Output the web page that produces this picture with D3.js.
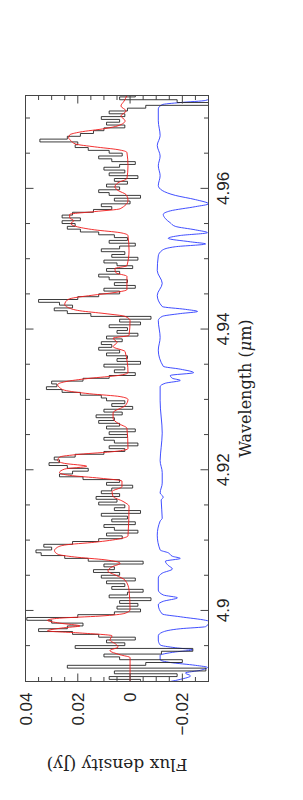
<!DOCTYPE html>
<html>
<head>
<meta charset="utf-8">
<script src="https://cdn.jsdelivr.net/npm/d3@7"></script>
<style>
  body { margin: 0; background: #fff; }
</style>
</head>
<body>
<svg id="chart" width="303" height="800"></svg>
<script>
// observed spectrum: wavelength grid (um) and flux density (Jy)
var dataWave = [
  4.8900, 4.8904, 4.8908, 4.8912, 4.8916, 4.8920, 4.8924, 4.8928, 4.8932, 4.8936,
  4.8940, 4.8944, 4.8948, 4.8952, 4.8956, 4.8960, 4.8964, 4.8968, 4.8972, 4.8976,
  4.8980, 4.8984, 4.8988, 4.8992, 4.8996, 4.9000, 4.9004, 4.9008, 4.9012, 4.9016,
  4.9020, 4.9024, 4.9028, 4.9032, 4.9036, 4.9040, 4.9044, 4.9048, 4.9052, 4.9056,
  4.9060, 4.9064, 4.9068, 4.9072, 4.9076, 4.9080, 4.9084, 4.9088, 4.9092, 4.9096,
  4.9100, 4.9104, 4.9108, 4.9112, 4.9116, 4.9120, 4.9124, 4.9128, 4.9132, 4.9136,
  4.9140, 4.9144, 4.9148, 4.9152, 4.9156, 4.9160, 4.9164, 4.9168, 4.9172, 4.9176,
  4.9180, 4.9184, 4.9188, 4.9192, 4.9196, 4.9200, 4.9204, 4.9208, 4.9212, 4.9216,
  4.9220, 4.9224, 4.9228, 4.9232, 4.9236, 4.9240, 4.9244, 4.9248, 4.9252, 4.9256,
  4.9260, 4.9264, 4.9268, 4.9272, 4.9276, 4.9280, 4.9284, 4.9288, 4.9292, 4.9296,
  4.9300, 4.9304, 4.9308, 4.9312, 4.9316, 4.9320, 4.9324, 4.9328, 4.9332, 4.9336,
  4.9340, 4.9344, 4.9348, 4.9352, 4.9356, 4.9360, 4.9364, 4.9368, 4.9372, 4.9376,
  4.9380, 4.9384, 4.9388, 4.9392, 4.9396, 4.9400, 4.9404, 4.9408, 4.9412, 4.9416,
  4.9420, 4.9424, 4.9428, 4.9432, 4.9436, 4.9440, 4.9444, 4.9448, 4.9452, 4.9456,
  4.9460, 4.9464, 4.9468, 4.9472, 4.9476, 4.9480, 4.9484, 4.9488, 4.9492, 4.9496,
  4.9500, 4.9504, 4.9508, 4.9512, 4.9516, 4.9520, 4.9524, 4.9528, 4.9532, 4.9536,
  4.9540, 4.9544, 4.9548, 4.9552, 4.9556, 4.9560, 4.9564, 4.9568, 4.9572, 4.9576,
  4.9580, 4.9584, 4.9588, 4.9592, 4.9596, 4.9600, 4.9604, 4.9608, 4.9612, 4.9616,
  4.9620, 4.9624, 4.9628, 4.9632, 4.9636, 4.9640, 4.9644, 4.9648, 4.9652, 4.9656,
  4.9660, 4.9664, 4.9668, 4.9672, 4.9676, 4.9680, 4.9684, 4.9688, 4.9692, 4.9696,
  4.9700, 4.9704, 4.9708, 4.9712, 4.9716, 4.9720, 4.9724, 4.9728, 4.9732
];
var dataFlux = [
  -0.004, 0.008, -0.018, 0.006, -0.029, 0.024, -0.006, -0.020, 0.004, 0.010,
  -0.012, -0.024, 0.021, 0.002, 0.009, -0.002, 0.012, 0.022, 0.035, 0.024,
  0.018, 0.030, 0.0395, 0.020, 0.006, -0.004, 0.005, -0.003, 0.004, -0.008,
  0.008, 0.001, -0.005, 0.007, 0.002, 0.009, -0.002, 0.011, 0.004, 0.014,
  0.006, 0.010, -0.005, 0.016, 0.025, 0.034, 0.036, 0.030, 0.033, 0.022,
  0.012, 0.003, 0.009, -0.003, 0.006, 0.010, -0.002, 0.007, 0.001, 0.011,
  -0.004, 0.006, 0.002, 0.012, 0.005, 0.013, 0.004, 0.011, 0.007, -0.001,
  0.009, 0.004, 0.018, 0.027, 0.022, 0.016, 0.024, 0.031, 0.027, 0.029,
  0.021, 0.010, 0.002, 0.008, -0.003, 0.006, 0.010, 0.001, 0.008, -0.002,
  0.009, 0.004, 0.012, 0.006, 0.013, 0.003, 0.010, -0.001, 0.007, 0.002,
  0.009, 0.011, 0.019, 0.026, 0.032, 0.028, 0.030, 0.018, 0.008, -0.002,
  0.006, 0.002, 0.010, -0.004, 0.005, 0.001, 0.009, 0.004, 0.012, 0.007,
  0.011, 0.003, 0.009, -0.003, 0.005, 0.001, 0.008, -0.004, 0.004, -0.008,
  0.015, 0.024, 0.029, 0.022, 0.027, 0.035, 0.020, 0.012, 0.004, 0.010,
  -0.002, 0.006, 0.001, 0.008, 0.012, 0.004, 0.009, -0.001, 0.005, 0.010,
  -0.003, 0.007, 0.002, 0.011, 0.004, -0.002, 0.008, 0.001, 0.006, 0.012,
  0.019, 0.024, 0.021, 0.026, 0.019, 0.026, 0.022, 0.014, 0.007, 0.011,
  0.000, 0.006, -0.004, 0.008, 0.012, 0.004, 0.009, 0.001, 0.006, -0.003,
  0.008, 0.002, 0.010, 0.004, -0.002, 0.007, 0.012, 0.003, 0.008, 0.016,
  0.021, 0.020, 0.0345, 0.024, 0.019, 0.014, 0.010, 0.002, 0.009, 0.004,
  0.011, 0.002, 0.008, 0.001, -0.006, -0.031, -0.018, 0.004, -0.002
];

// model spectrum (red)
var modelWave = [
  4.8899, 4.8933, 4.8937, 4.8943, 4.8948, 4.8952, 4.8958, 4.8964, 4.8968, 4.8971,
  4.8975, 4.8978, 4.8982, 4.8986, 4.8989, 4.8992, 4.8996, 4.9001, 4.9029, 4.9043,
  4.9050, 4.9056, 4.9062, 4.9067, 4.9072, 4.9076, 4.9080, 4.9085, 4.9089, 4.9093,
  4.9097, 4.9102, 4.9106, 4.9148, 4.9155, 4.9162, 4.9169, 4.9176, 4.9184, 4.9188,
  4.9192, 4.9196, 4.9201, 4.9205, 4.9209, 4.9213, 4.9218, 4.9222, 4.9226, 4.9230,
  4.9259, 4.9266, 4.9273, 4.9281, 4.9291, 4.9300, 4.9304, 4.9308, 4.9313, 4.9317,
  4.9321, 4.9325, 4.9330, 4.9334, 4.9338, 4.9368, 4.9375, 4.9381, 4.9387, 4.9391,
  4.9412, 4.9418, 4.9422, 4.9426, 4.9431, 4.9435, 4.9439, 4.9443, 4.9448, 4.9452,
  4.9456, 4.9475, 4.9480, 4.9486, 4.9490, 4.9512, 4.9533, 4.9537, 4.9541, 4.9546,
  4.9550, 4.9554, 4.9558, 4.9563, 4.9567, 4.9571, 4.9583, 4.9591, 4.9597, 4.9602,
  4.9608, 4.9614, 4.9632, 4.9651, 4.9655, 4.9659, 4.9663, 4.9668, 4.9672, 4.9676,
  4.9680, 4.9685, 4.9689, 4.9696, 4.9703, 4.9710, 4.9717, 4.9724, 4.9732
];
var modelFlux = [
  0.0000, 0.0000, 0.0038, 0.0077, 0.0046, 0.0054, 0.0077, 0.0069, 0.0192, 0.0316,
  0.0262, 0.0192, 0.0270, 0.0316, 0.0270, 0.0115, 0.0019, 0.0000, 0.0004, 0.0019,
  0.0054, 0.0085, 0.0069, 0.0038, 0.0096, 0.0212, 0.0277, 0.0289, 0.0281, 0.0250,
  0.0135, 0.0038, 0.0008, 0.0004, 0.0027, 0.0065, 0.0069, 0.0031, 0.0031, 0.0115,
  0.0231, 0.0270, 0.0250, 0.0166, 0.0250, 0.0277, 0.0270, 0.0192, 0.0058, 0.0008,
  0.0012, 0.0046, 0.0065, 0.0065, 0.0019, 0.0008, 0.0038, 0.0154, 0.0250, 0.0270,
  0.0277, 0.0250, 0.0154, 0.0046, 0.0008, 0.0019, 0.0065, 0.0050, 0.0065, 0.0004,
  0.0000, 0.0019, 0.0096, 0.0192, 0.0239, 0.0250, 0.0246, 0.0231, 0.0146, 0.0058,
  0.0012, 0.0012, 0.0054, 0.0058, 0.0012, 0.0004, 0.0008, 0.0038, 0.0135, 0.0208,
  0.0227, 0.0215, 0.0231, 0.0231, 0.0135, 0.0038, 0.0008, 0.0015, 0.0046, 0.0058,
  0.0046, 0.0012, 0.0008, 0.0012, 0.0046, 0.0135, 0.0208, 0.0227, 0.0235, 0.0231,
  0.0192, 0.0096, 0.0046, 0.0019, 0.0035, 0.0015, 0.0035, 0.0023, 0.0012
];

// scaled atmospheric transmission (blue)
var transWave = [
  4.8899, 4.8902, 4.8907, 4.8911, 4.8915, 4.8919, 4.8922, 4.8926, 4.8930, 4.8936,
  4.8941, 4.8944, 4.8947, 4.8951, 4.8958, 4.8964, 4.8969, 4.8974, 4.8977, 4.8981,
  4.8984, 4.8986, 4.8991, 4.8995, 4.9008, 4.9013, 4.9018, 4.9022, 4.9029, 4.9046,
  4.9053, 4.9059, 4.9064, 4.9070, 4.9074, 4.9077, 4.9082, 4.9086, 4.9107, 4.9127,
  4.9131, 4.9157, 4.9161, 4.9167, 4.9181, 4.9196, 4.9213, 4.9232, 4.9252, 4.9298,
  4.9318, 4.9323, 4.9327, 4.9330, 4.9334, 4.9338, 4.9343, 4.9347, 4.9370, 4.9388,
  4.9412, 4.9418, 4.9422, 4.9425, 4.9428, 4.9432, 4.9448, 4.9465, 4.9483, 4.9504,
  4.9512, 4.9517, 4.9521, 4.9524, 4.9529, 4.9533, 4.9537, 4.9541, 4.9546, 4.9551,
  4.9557, 4.9563, 4.9568, 4.9574, 4.9578, 4.9584, 4.9590, 4.9597, 4.9604, 4.9618,
  4.9632, 4.9646, 4.9661, 4.9675, 4.9696, 4.9713, 4.9719, 4.9722, 4.9725, 4.9729,
  4.9732
];
var transFlux = [
  -0.0154, -0.0192, -0.0231, -0.0212, -0.0270, -0.0296, -0.0250, -0.0154, -0.0115, -0.0115,
  -0.0173, -0.0239, -0.0173, -0.0115, -0.0108, -0.0108, -0.0123, -0.0192, -0.0289, -0.0300,
  -0.0308, -0.0289, -0.0192, -0.0123, -0.0108, -0.0127, -0.0181, -0.0127, -0.0108, -0.0108,
  -0.0123, -0.0162, -0.0146, -0.0135, -0.0192, -0.0162, -0.0146, -0.0115, -0.0104, -0.0115,
  -0.0123, -0.0119, -0.0127, -0.0115, -0.0123, -0.0123, -0.0115, -0.0119, -0.0123, -0.0115,
  -0.0115, -0.0135, -0.0192, -0.0162, -0.0154, -0.0243, -0.0192, -0.0127, -0.0108, -0.0115,
  -0.0108, -0.0123, -0.0192, -0.0258, -0.0212, -0.0123, -0.0104, -0.0123, -0.0104, -0.0108,
  -0.0123, -0.0173, -0.0289, -0.0231, -0.0146, -0.0192, -0.0296, -0.0250, -0.0173, -0.0154,
  -0.0135, -0.0127, -0.0154, -0.0250, -0.0300, -0.0250, -0.0173, -0.0123, -0.0108, -0.0115,
  -0.0108, -0.0115, -0.0104, -0.0115, -0.0108, -0.0108, -0.0123, -0.0192, -0.0289, -0.0308,
  -0.0296
];

var xMajor = [4.90, 4.92, 4.94, 4.96];
var xMajorLabels = ["4.9", "4.92", "4.94", "4.96"];
var xMinor = [4.895, 4.905, 4.91, 4.915, 4.925, 4.93, 4.935, 4.945, 4.95, 4.955, 4.965, 4.97];
var yMajor = [-0.02, 0, 0.02, 0.04];
var yMajorLabels = ["\u22120.02", "0", "0.02", "0.04"];
var yMinor = [-0.025, -0.015, -0.01, -0.005, 0.005, 0.01, 0.015, 0.025, 0.03, 0.035];

// the chart is drawn landscape (800 x 303) and turned a quarter turn
var W = 800, H = 303;
var plotL = 118.5, plotR = 704.5, plotT = 25.5, plotB = 208.5;

var x = d3.scaleLinear().domain([4.8899, 4.9732]).range([plotL, plotR]);
var y = d3.scaleLinear().domain([-0.03, 0.04]).range([plotB, plotT]);

var svg = d3.select("#chart");
var g = svg.append("g")
    .attr("transform", "translate(0," + W + ") rotate(-90)");

g.append("defs").append("clipPath")
    .attr("id", "plot-clip")
    .append("rect")
    .attr("x", plotL)
    .attr("y", plotT)
    .attr("width", plotR - plotL)
    .attr("height", plotB - plotT);

var plot = g.append("g").attr("clip-path", "url(#plot-clip)");

var dataLine = d3.line()
    .x(function (d) { return x(d[0]); })
    .y(function (d) { return y(d[1]); })
    .curve(d3.curveStep);

var smoothLine = d3.line()
    .x(function (d) { return x(d[0]); })
    .y(function (d) { return y(d[1]); })
    .curve(d3.curveMonotoneX);

plot.append("path")
    .datum(d3.zip(transWave, transFlux))
    .attr("d", smoothLine)
    .style("fill", "none")
    .style("stroke", "#2b3bff")
    .style("stroke-width", 0.9);

plot.append("path")
    .datum(d3.zip(dataWave, dataFlux))
    .attr("d", dataLine)
    .style("fill", "none")
    .style("stroke", "#1a1a1a")
    .style("stroke-width", 0.85);

plot.append("path")
    .datum(d3.zip(modelWave, modelFlux))
    .attr("d", smoothLine)
    .style("fill", "none")
    .style("stroke", "#f01818")
    .style("stroke-width", 0.9);

// frame
g.append("rect")
    .attr("x", plotL)
    .attr("y", plotT)
    .attr("width", plotR - plotL)
    .attr("height", plotB - plotT)
    .style("fill", "none")
    .style("stroke", "#444")
    .style("stroke-width", 1);

// ticks on all four sides, pointing inward
var ticks = g.append("g").style("stroke", "#444").style("stroke-width", 1);

function xTicks(vals, len) {
    vals.forEach(function (v) {
        ticks.append("line").attr("x1", x(v)).attr("x2", x(v))
            .attr("y1", plotB).attr("y2", plotB - len);
        ticks.append("line").attr("x1", x(v)).attr("x2", x(v))
            .attr("y1", plotT).attr("y2", plotT + len);
    });
}
function yTicks(vals, len) {
    vals.forEach(function (v) {
        ticks.append("line").attr("y1", y(v)).attr("y2", y(v))
            .attr("x1", plotL).attr("x2", plotL + len);
        ticks.append("line").attr("y1", y(v)).attr("y2", y(v))
            .attr("x1", plotR).attr("x2", plotR - len);
    });
}
xTicks(xMajor, 8);
xTicks(xMinor, 4.5);
yTicks(yMajor, 8);
yTicks(yMinor, 4.5);

// tick labels
g.selectAll(".xlab")
    .data(xMajor)
    .enter()
    .append("text")
    .attr("class", "xlab")
    .attr("x", function (d) { return x(d); })
    .attr("y", plotB + 20)
    .attr("text-anchor", "middle")
    .style("font-family", "'Liberation Sans', Arial, sans-serif")
    .style("font-size", "17px")
    .style("fill", "#222")
    .text(function (d, i) { return xMajorLabels[i]; });

g.selectAll(".ylab")
    .data(yMajor)
    .enter()
    .append("text")
    .attr("class", "ylab")
    .attr("x", plotL - 11)
    .attr("y", function (d) { return y(d); })
    .attr("dy", "0.36em")
    .attr("text-anchor", "end")
    .style("font-family", "'Liberation Sans', Arial, sans-serif")
    .style("font-size", "17px")
    .style("fill", "#222")
    .text(function (d, i) { return yMajorLabels[i]; });

// axis titles
var xTitle = g.append("text")
    .attr("x", (plotL + plotR) / 2)
    .attr("y", 251)
    .attr("text-anchor", "middle")
    .style("font-family", "'DejaVu Serif', serif")
    .style("font-size", "16px")
    .style("fill", "#222");
xTitle.append("tspan").text("Wavelength (");
xTitle.append("tspan").style("font-style", "italic").text("\u03bc");
xTitle.append("tspan").text("m)");

g.append("text")
    .attr("transform", "translate(41," + ((plotT + plotB) / 2) + ") rotate(-90)")
    .attr("text-anchor", "middle")
    .style("font-family", "'DejaVu Serif', serif")
    .style("font-size", "17px")
    .style("fill", "#222")
    .text("Flux density (Jy)");
</script>
</body>
</html>
